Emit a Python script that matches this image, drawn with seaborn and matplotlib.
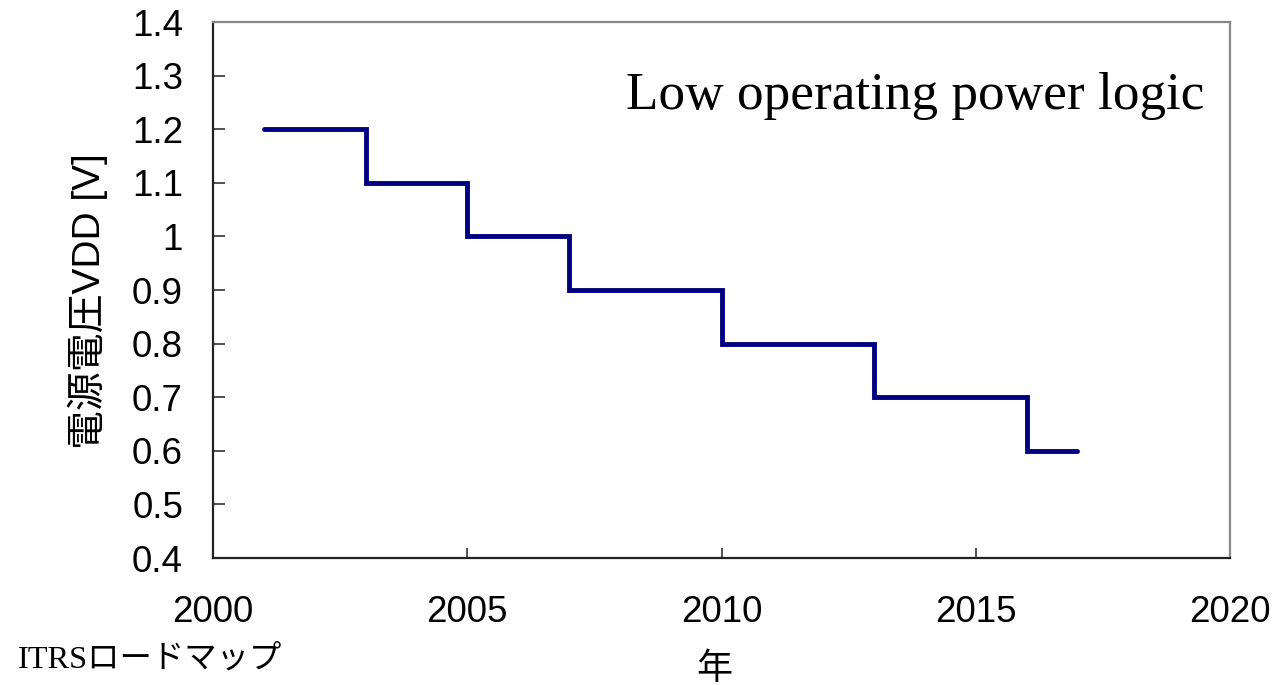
import matplotlib
matplotlib.use("Agg")
import matplotlib.pyplot as plt
import seaborn as sns
import pandas as pd
from matplotlib.ticker import FuncFormatter

years = [2001, 2003, 2005, 2007, 2010, 2013, 2016, 2017]
vdd = [1.2, 1.1, 1.0, 0.9, 0.8, 0.7, 0.6, 0.6]
title_text = "Low operating power logic"
ylabel_text = "電源電圧VDD [V]"
xlabel_text = "年"
source_text = "ITRSロードマップ"

sns.set_theme(style="white")
plt.rcParams['font.family'] = ['Liberation Sans', 'Noto Sans CJK JP']
plt.rcParams['text.color'] = 'black'
plt.rcParams['axes.labelcolor'] = 'black'
plt.rcParams['xtick.direction'] = 'in'
plt.rcParams['ytick.direction'] = 'in'
plt.rcParams['xtick.bottom'] = True
plt.rcParams['ytick.left'] = True

df = pd.DataFrame({"year": years, "vdd": vdd})

fig = plt.figure(figsize=(12.78, 6.85), dpi=100)
ax = fig.add_axes([213/1278, 1-558/685, (1230-213)/1278, (558-22)/685])

sns.lineplot(data=df, x="year", y="vdd", ax=ax, drawstyle="steps-post",
             color="#000080", linewidth=3.5, solid_capstyle="round", solid_joinstyle="miter")

ax.set_xlim(2000, 2020)
ax.set_ylim(0.4, 1.4)
ax.set_xticks([2000, 2005, 2010, 2015, 2020])
ax.set_yticks([0.4, 0.5, 0.6, 0.7, 0.8, 0.9, 1.0, 1.1, 1.2, 1.3, 1.4])
ax.yaxis.set_major_formatter(FuncFormatter(lambda v, p: f"{v:g}"))
ax.tick_params(axis="both", direction="in", width=1.2, color="#333333",
               labelsize=26.5, labelcolor="black", bottom=True, left=True)
ax.tick_params(axis="y", pad=21.6, length=8.5)
ax.tick_params(axis="x", pad=27, length=7)
for s in ["left", "bottom"]:
    ax.spines[s].set_color("#222222")
    ax.spines[s].set_linewidth(1.6)
for s in ["top", "right"]:
    ax.spines[s].set_color("#888888")
    ax.spines[s].set_linewidth(1.6)
ax.grid(False)

ax.set_xlabel(xlabel_text, fontsize=26, family=['Noto Sans CJK JP'])
ax.xaxis.set_label_coords(0.4925, (558-651)/536)
ax.set_ylabel(ylabel_text, fontsize=28, family=['Liberation Sans', 'Noto Sans CJK JP'])
ax.yaxis.set_label_coords(-0.1032, 0.4795)

ax.text(0.975, 0.862, title_text, transform=ax.transAxes, ha="right", va="center",
        fontsize=38.3, family=['Liberation Serif'], color="black")

fig.text(18/1278, 1-660/685, source_text, ha="left", va="center", fontsize=23.3,
         family=['Liberation Serif', 'Noto Sans CJK JP'], color="black")

fig.savefig("out.png", dpi=100)
